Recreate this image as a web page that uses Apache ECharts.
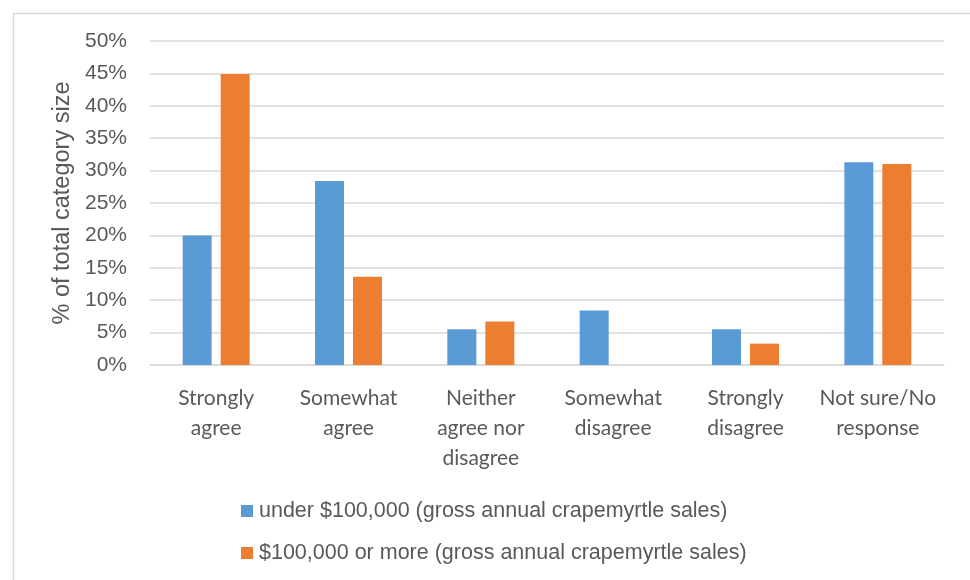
<!DOCTYPE html>
<html>
<head>
<meta charset="utf-8">
<script src="https://cdn.jsdelivr.net/npm/echarts@6/dist/echarts.min.js"></script>
<style>
  html, body { margin: 0; padding: 0; background: #fff; }
  #main { width: 970px; height: 580px; }
</style>
</head>
<body>
<div id="main"></div>
<script>
// data
const categories = [
  'Strongly\nagree',
  'Somewhat\nagree',
  'Neither\nagree nor\ndisagree',
  'Somewhat\ndisagree',
  'Strongly\ndisagree',
  'Not sure/No\nresponse'
];
const seriesNames = [
  'under $100,000 (gross annual crapemyrtle sales)',
  '$100,000 or more (gross annual crapemyrtle sales)'
];
const under100k = [20.0, 28.4, 5.5, 8.4, 5.5, 31.3];
const over100k = [44.9, 13.6, 6.7, 0, 3.3, 31.0];

const textColor = '#595959';
const gridColor = '#d9d9d9';

const chart = echarts.init(document.getElementById('main'), null, { renderer: 'canvas' });

const option = {
  animation: false,
  color: ['#5b9bd5', '#ed7d31'],
  textStyle: { fontFamily: 'Liberation Sans' },
  // outer chart frame (only left and top edges visible in the crop)
  graphic: [{
    type: 'rect',
    left: 11, top: 11,
    shape: { width: 1200, height: 1200 },
    style: { fill: 'none', stroke: gridColor, lineWidth: 1.5 },
    silent: true
  }],
  grid: { left: 150, right: 26, top: 41, bottom: 215 },
  legend: {
    orient: 'vertical',
    left: 236,
    top: 495,
    icon: 'rect',
    itemWidth: 12,
    itemHeight: 12,
    itemGap: 20,
    textStyle: { color: textColor, fontSize: 21.5, lineHeight: 22, padding: [0, 0, 0, 1] },
    data: seriesNames
  },
  xAxis: {
    type: 'category',
    data: categories,
    axisTick: { show: false },
    axisLine: { lineStyle: { color: gridColor, width: 1.5 } },
    axisLabel: {
      interval: 0,
      color: textColor,
      fontFamily: 'Lato',
      fontSize: 21,
      lineHeight: 30,
      margin: 18
    }
  },
  yAxis: {
    type: 'value',
    min: 0,
    max: 50,
    interval: 5,
    name: '% of total category size',
    nameLocation: 'middle',
    nameGap: 75,
    nameTextStyle: { color: textColor, fontSize: 23.5 },
    axisLine: { show: false },
    axisTick: { show: false },
    axisLabel: { color: textColor, fontSize: 21, margin: 23, formatter: '{value}%' },
    splitLine: { lineStyle: { color: gridColor, width: 1.5 } }
  },
  series: [
    { name: seriesNames[0], type: 'bar', data: under100k, barWidth: 29, barGap: '31%' },
    { name: seriesNames[1], type: 'bar', data: over100k, barWidth: 29, barGap: '31%' }
  ]
};

chart.setOption(option);
</script>
</body>
</html>
